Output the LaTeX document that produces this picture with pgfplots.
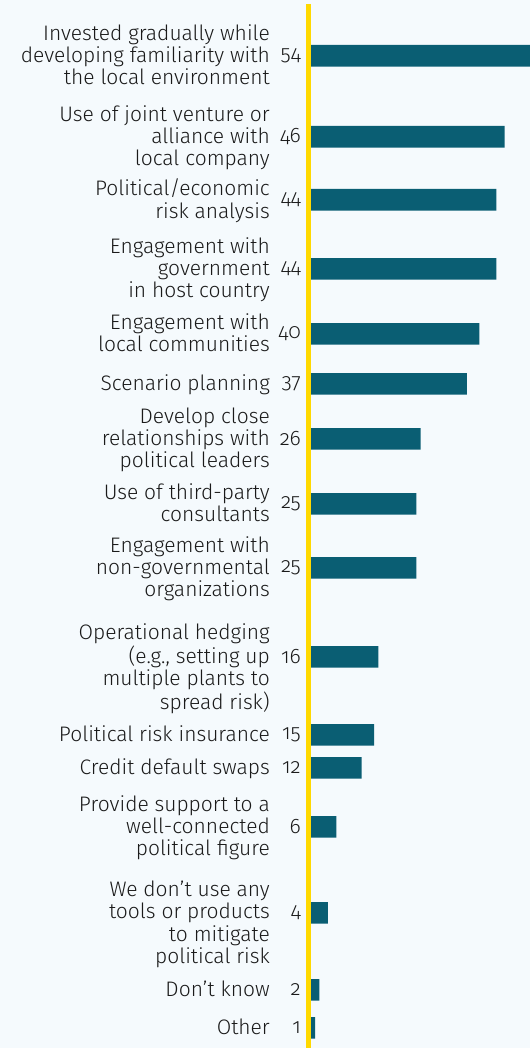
\documentclass[border=0pt]{standalone}
\usepackage{fontspec}
\setmainfont{Fira Sans}[UprightFont=* Light, Numbers=OldStyle]
\usepackage{pgfplots}
\pgfplotsset{compat=1.18}
\definecolor{bg}{HTML}{F5FAFD}
\definecolor{barc}{HTML}{0A5E73}
\definecolor{yel}{HTML}{FFD900}
\definecolor{txt}{HTML}{1A1A1A}
\newcommand{\lab}[1]{\begin{tabular}{@{}r@{}}#1\end{tabular}}
\newcommand{\lf}{\fontsize{21bp}{21.5bp}\selectfont}
\begin{document}
\begin{tikzpicture}
\fill[bg] (0,0) rectangle (530bp,1048bp);
\path[use as bounding box] (0,0) rectangle (530bp,1048bp);
\begin{axis}[
  at={(308.5bp,0bp)}, anchor=south west,
  width=221.5bp, height=1044bp, scale only axis,
  xmin=-0.6, xmax=52.0, ymin=4, ymax=1048, y dir=reverse,
  axis x line=none, axis y line*=left,
  y axis line style={draw=yel, line width=5bp},
  ytick style={draw=none}, major tick length=0pt,
  ytick={55.85,136.85,199.85,268.85,333.85,383.85,438.85,503.85,567.85,656.85,734.85,767.85,826.85,912.85,989.85,1027.85},
  yticklabels={
    {\lab{Invested gradually while\\developing familiarity with\\the local environment}},
    {\lab{Use of joint venture or\\alliance with\\local company}},
    {\lab{Political/economic\\risk analysis}},
    {\lab{Engagement with\\government\\in host country}},
    {\lab{Engagement with\\local communities}},
    {\lab{Scenario planning}},
    {\lab{Develop close\\relationships with\\political leaders}},
    {\lab{Use of third-party\\consultants}},
    {\lab{Engagement with\\non-governmental\\organizations}},
    {\lab{\mbox{}\\Operational hedging\\(e.g., setting up\\multiple plants to\\spread risk)}},
    {\lab{Political risk insurance}},
    {\lab{Credit default swaps}},
    {\lab{Provide support to a\\well-connected\\political figure}},
    {\lab{\mbox{}\\We don’t use any\\tools or products\\to mitigate\\political risk}},
    {\lab{Don’t know}},
    {\lab{Other}}
  },
  yticklabel style={font=\lf, text=txt, anchor=east, inner sep=0pt, xshift=-38.5bp, yshift=-2bp},
  axis on top,
  clip=false,
]
\addplot[xbar, bar width=21.7, fill=barc, draw=none] table {
x y
54 55.85
46 136.85
44 199.85
44 268.85
40 333.85
37 383.85
26 438.85
25 503.85
25 567.85
16 656.85
15 734.85
12 767.85
6 826.85
4 912.85
2 989.85
1 1027.85
};
\addplot[draw=none, nodes near coords, point meta=explicit symbolic,
  every node near coord/.append style={anchor=east, inner sep=0pt, xshift=-10bp, font=\lf, text=txt}]
  table[meta=v] {
x y v
0 55.85 54
0 136.85 46
0 199.85 44
0 268.85 44
0 333.85 40
0 383.85 37
0 438.85 26
0 503.85 25
0 567.85 25
0 656.85 16
0 734.85 15
0 767.85 12
0 826.85 6
0 912.85 4
0 989.85 2
0 1027.85 1
};
\end{axis}
\end{tikzpicture}
\end{document}
